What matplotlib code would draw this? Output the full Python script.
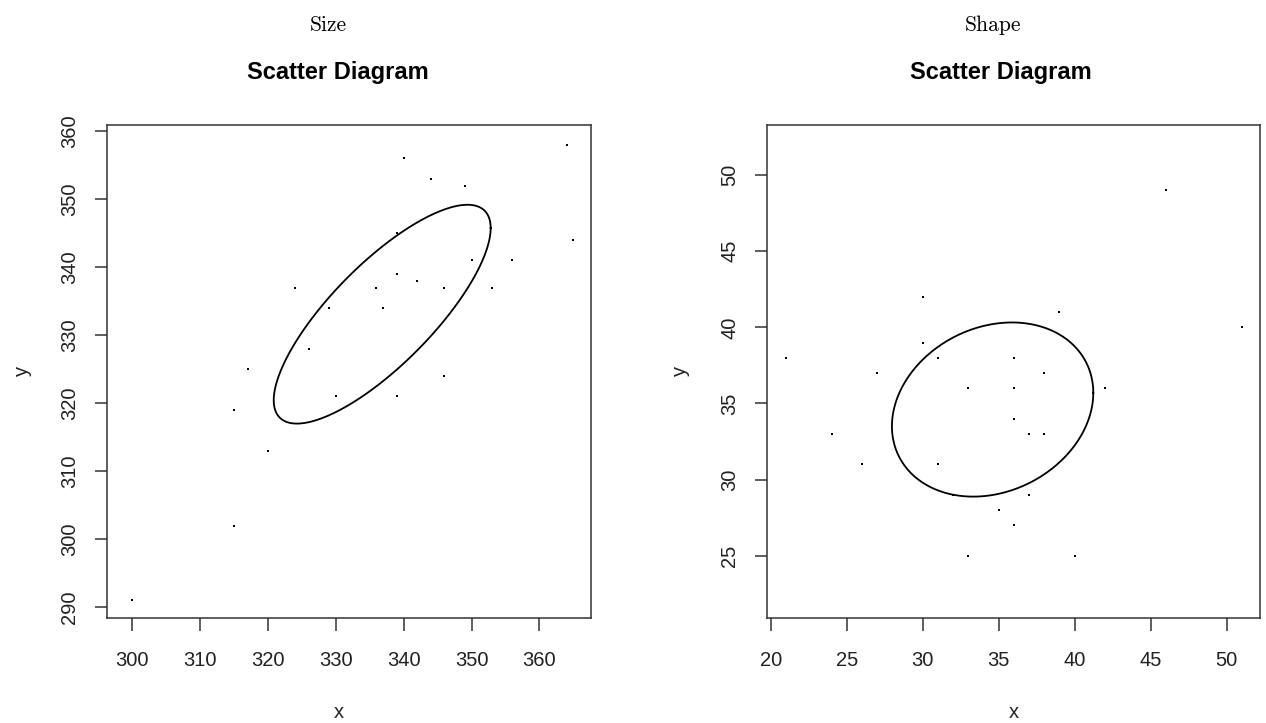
import numpy as np
import matplotlib.pyplot as plt

# Size panel data
size_x = [300, 315, 315, 317, 320, 324, 326, 329, 330, 336, 337, 339, 339,
          339, 340, 342, 344, 346, 346, 349, 350, 353, 356, 364, 365]
size_y = [291, 302, 319, 325, 313, 337, 328, 334, 321, 337, 334, 345, 339,
          321, 356, 338, 353, 337, 324, 352, 341, 337, 341, 358, 344]

# Shape panel data
shape_x = [46, 30, 39, 51, 30, 21, 31, 36, 27, 38, 33, 36, 42, 36, 24, 37,
           38, 26, 31, 37, 35, 36, 33, 40, 32]
shape_y = [49, 42, 41, 40, 39, 38, 38, 38, 37, 37, 36, 36, 36, 34, 33, 33,
           33, 31, 31, 29, 28, 27, 25, 25, 29]

size_ticks_x = [300, 310, 320, 330, 340, 350, 360]
size_ticks_y = [290, 300, 310, 320, 330, 340, 350, 360]
shape_ticks_x = [20, 25, 30, 35, 40, 45, 50]
shape_ticks_y = [25, 30, 35, 40, 45, 50]

plt.rcParams['font.family'] = ['Liberation Sans', 'DejaVu Sans']

W, H = 1266, 723
fig = plt.figure(figsize=(W / 100, H / 100), dpi=100)


def panel(rect, x, y, xlim, ylim, xticks, yticks):
    ax = fig.add_axes(rect)
    ax.scatter(x, y, s=4.5, c='black', marker='s', linewidths=0)

    # 1-sd covariance ellipse
    pts = np.column_stack([x, y]).astype(float)
    mean = pts.mean(axis=0)
    L = np.linalg.cholesky(np.cov(pts.T))
    t = np.linspace(0, 2 * np.pi, 300)
    circ = np.vstack([np.cos(t), np.sin(t)])
    ell = mean[:, None] + L @ circ
    ax.plot(ell[0], ell[1], color='black', lw=1.3)

    ax.set_xlim(*xlim)
    ax.set_ylim(*ylim)
    ax.set_xticks(xticks)
    ax.set_yticks(yticks)
    for s in ax.spines.values():
        s.set_color('#333333')
        s.set_linewidth(1.1)
    ax.tick_params(direction='out', length=9, width=1.1, color='#333333',
                   labelsize=14.5, labelcolor='#222222')
    ax.tick_params(axis='x', pad=15)
    ax.tick_params(axis='y', pad=11)
    plt.setp(ax.get_yticklabels(), rotation=90, va='center')
    return ax


def px(x0, y0, x1, y1):
    return [x0 / W, 1 - y1 / H, (x1 - x0) / W, (y1 - y0) / H]


panel(px(107, 125, 591, 618), size_x, size_y, (296.3, 367.6), (288.4, 360.9),
      size_ticks_x, size_ticks_y)
panel(px(767, 125, 1260, 618), shape_x, shape_y, (19.75, 52.2), (20.9, 53.3),
      shape_ticks_x, shape_ticks_y)

# panel headings
fig.text(328 / W, 1 - 25 / H, 'Size', family='cmr10', fontsize=15.5,
         ha='center', va='center')
fig.text(993 / W, 1 - 25 / H, 'Shape', family='cmr10', fontsize=15.5,
         ha='center', va='center')

for cx in (338, 1001):
    fig.text(cx / W, 1 - 73 / H, 'Scatter Diagram', fontsize=17,
             fontweight='bold', ha='center', va='center')

for cx in (339, 1014):
    fig.text(cx / W, 1 - 713 / H, 'x', fontsize=14.5, color='#222222',
             ha='center', va='center')
for cx in (22, 680):
    fig.text(cx / W, 1 - 371 / H, 'y', fontsize=14.5, color='#222222',
             rotation=90, ha='center', va='center')

fig.savefig('out.png', dpi=100)
